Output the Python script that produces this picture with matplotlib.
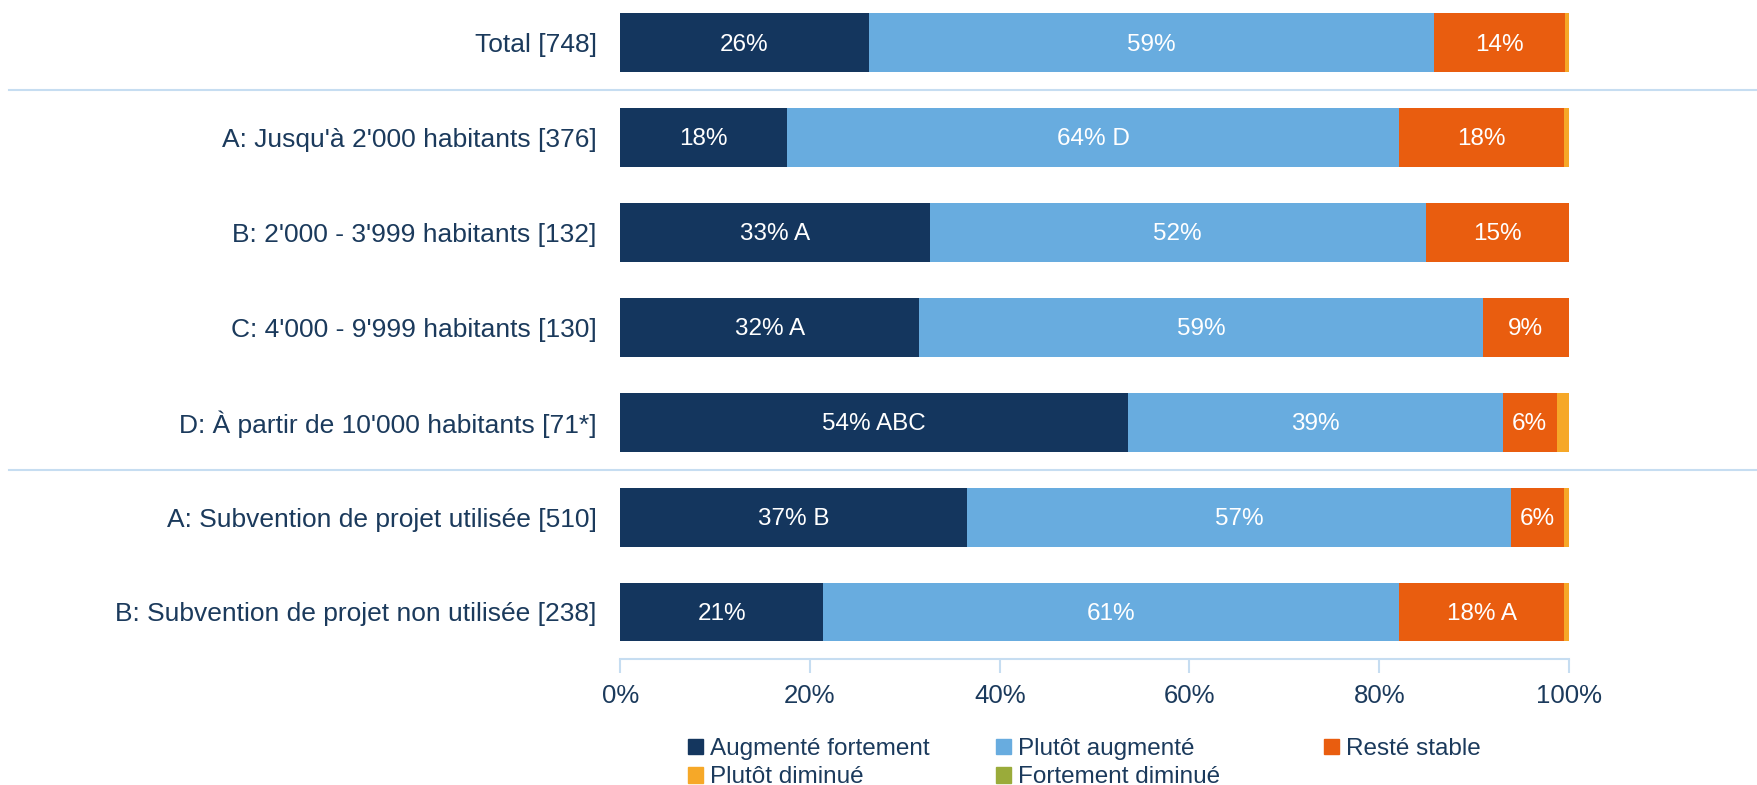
import numpy as np
import matplotlib.pyplot as plt
import matplotlib.transforms as mtransforms
from matplotlib.patches import Patch
from matplotlib.ticker import FuncFormatter

plt.rcParams['font.family'] = ['Liberation Sans', 'DejaVu Sans']

categories = ["Total [748]",
              "A: Jusqu'à 2'000 habitants [376]",
              "B: 2'000 - 3'999 habitants [132]",
              "C: 4'000 - 9'999 habitants [130]",
              "D: À partir de 10'000 habitants [71*]",
              "A: Subvention de projet utilisée [510]",
              "B: Subvention de projet non utilisée [238]"]

series_names = ["Augmenté fortement", "Plutôt augmenté", "Resté stable",
                "Plutôt diminué", "Fortement diminué"]

augmente_fort = [26.2, 17.6, 32.6, 31.5, 53.5, 36.5, 21.4]
plutot_augm = [59.6, 64.5, 52.3, 59.4, 39.5, 57.4, 60.7]
reste_stable = [13.8, 17.4, 15.1, 9.1, 5.7, 5.6, 17.4]
plutot_dimi = [0.4, 0.5, 0.0, 0.0, 1.3, 0.5, 0.5]
fort_dimi = [0.0, 0.0, 0.0, 0.0, 0.0, 0.0, 0.0]

labels_af = ["26%", "18%", "33% A", "32% A", "54% ABC", "37% B", "21%"]
labels_pa = ["59%", "64% D", "52%", "59%", "39%", "57%", "61%"]
labels_rs = ["14%", "18%", "15%", "9%", "6%", "6%", "18% A"]

colors = ["#14365e", "#68acdf", "#e95d0f", "#f6a828", "#9aab3a"]
text_col = "#1b3a5c"
line_col = "#c6ddf1"

fig = plt.figure(figsize=(17.57, 7.85), dpi=100)
ax = fig.add_axes([0.353, 0.160, 0.540, 0.846])

y = np.arange(len(categories))
data = [augmente_fort, plutot_augm, reste_stable, plutot_dimi, fort_dimi]
labels = [labels_af, labels_pa, labels_rs, None, None]
left = np.zeros(len(categories))
for vals, col, lab in zip(data, colors, labels):
    vals = np.array(vals)
    ax.barh(y, vals, left=left, height=0.62, color=col, edgecolor='none')
    if lab is not None:
        for yi, (l, v, t) in enumerate(zip(left, vals, lab)):
            ax.text(l + v / 2, yi + 0.02, t, ha='center', va='center',
                    color='white', fontsize=17.5)
    left += vals

ax.set_ylim(len(categories) - 0.5, -0.5)
ax.set_xlim(0, 100)
ax.set_yticks(y)
ax.set_yticklabels(categories, fontsize=19, color=text_col)
ax.tick_params(axis='y', length=0, pad=17)
ax.set_xticks(range(0, 101, 20))
ax.xaxis.set_major_formatter(FuncFormatter(lambda v, p: "{:.0f}%".format(v)))
ax.tick_params(axis='x', labelsize=18.5, labelcolor=text_col, color=line_col,
               length=10, width=1.5, pad=8)
for s in ['top', 'right', 'left']:
    ax.spines[s].set_visible(False)
ax.spines['bottom'].set_color(line_col)
ax.spines['bottom'].set_linewidth(1.5)

# group separators across the whole width
trans = mtransforms.blended_transform_factory(fig.transFigure, ax.transData)
for ysep in [0.5, 4.5]:
    ax.plot([0.005, 1.0], [ysep, ysep], transform=trans, color=line_col,
            linewidth=1.5, clip_on=False)

# legend: three fixed-width columns, filled row by row
handles = [Patch(color=c, label=n) for c, n in zip(colors, series_names)]
columns = [[0, 3], [1, 4], [2]]
col_x = [0.3916, 0.567, 0.7537]
for idx, cx in zip(columns, col_x):
    leg = fig.legend([handles[i] for i in idx], [series_names[i] for i in idx],
                     loc='upper left', bbox_to_anchor=(cx, 0.0595),
                     frameon=False, fontsize=17.5, handlelength=0.6,
                     handleheight=0.6, handletextpad=0.3, labelspacing=0.25,
                     borderpad=0, borderaxespad=0, labelcolor=text_col)

fig.savefig("out.png", dpi=100)
